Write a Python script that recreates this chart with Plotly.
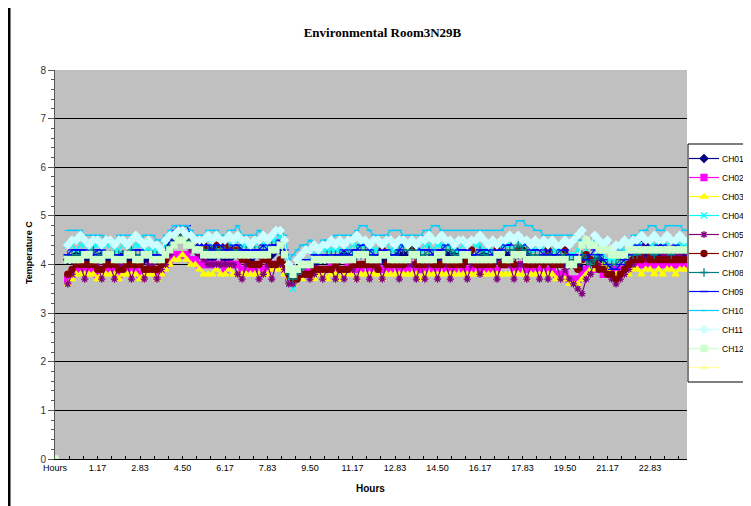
import plotly.graph_objects as go

# ---------------- data (°C, one reading every 10 minutes, starting at category 3) ----------------
tick_labels = ["Hours", "1.17", "2.83", "4.50", "6.17", "7.83", "9.50", "11.17",
               "12.83", "14.50", "16.17", "17.83", "19.50", "21.17", "22.83"]

ch01 = [4.1,4.1,4.2,4.2,4.1,4.1,4.1,4.1,4.2,4.1,
        4.1,4.1,4.1,4.2,4.1,4.1,4.1,4.1,4.1,4.1,
        4.1,4.1,4.1,4.2,4.4,4.5,4.6,4.6,4.5,4.4,
        4.3,4.2,4.2,4.1,4.1,4.2,4.2,4.1,4.1,4.2,
        4.2,4.2,4.1,4.1,4.2,4.2,4.2,4.1,4.2,4.3,
        4.3,4.2,3.8,3.7,3.8,3.9,3.9,4.0,4.0,4.1,
        4.1,4.1,4.1,4.1,4.1,4.2,4.1,4.1,4.2,4.2,
        4.2,4.1,4.1,4.1,4.1,4.1,4.1,4.1,4.2,4.2,
        4.2,4.2,4.2,4.1,4.1,4.1,4.1,4.1,4.2,4.2,
        4.2,4.2,4.1,4.1,4.1,4.1,4.1,4.1,4.2,4.1,
        4.1,4.1,4.2,4.2,4.2,4.2,4.2,4.2,4.2,4.1,
        4.1,4.1,4.1,4.1,4.1,4.1,4.1,4.0,4.0,4.0,
        4.0,3.9,3.9,3.9,4.0,4.1,4.0,3.9,3.9,3.8,
        3.8,3.9,4.0,4.1,4.2,4.2,4.2,4.2,4.2,4.2,
        4.2,4.2,4.2,4.2,4.2,4.2,4.2]

ch02 = [3.7,3.8,3.9,3.9,3.9,3.9,3.9,3.8,3.9,3.9,
        3.9,3.9,3.8,3.9,3.9,3.9,3.9,3.8,3.8,3.9,
        3.9,3.8,3.9,4.0,4.1,4.2,4.2,4.2,4.2,4.1,
        4.1,4.0,4.0,4.0,4.0,4.0,4.0,3.9,4.0,4.0,
        4.0,3.9,3.9,3.9,3.9,4.0,3.9,3.9,4.0,4.0,
        4.0,3.9,3.7,3.7,3.8,3.8,3.9,3.9,3.9,3.9,
        3.9,3.9,4.0,3.9,3.9,3.9,4.0,3.9,3.9,3.9,
        4.0,3.9,3.9,4.0,3.9,3.9,3.9,4.0,3.9,3.9,
        3.9,4.0,3.9,3.9,3.9,4.0,3.9,3.9,4.0,3.9,
        3.9,3.9,4.0,3.9,3.9,3.9,4.0,3.9,3.9,3.9,
        3.9,3.9,4.0,4.0,4.0,3.9,3.9,4.0,3.9,3.9,
        3.9,3.9,4.0,3.9,3.9,3.8,3.8,3.8,3.7,3.7,
        3.7,3.8,3.9,4.0,3.9,3.9,3.8,3.8,3.8,3.9,
        3.9,3.9,4.0,4.0,4.0,4.0,4.0,4.0,4.0,4.0,
        4.0,4.0,4.0,4.0,4.0,4.0,4.0]

ch03 = [3.6,3.7,3.8,3.8,3.8,3.8,3.8,3.7,3.8,3.8,
        3.8,3.8,3.7,3.8,3.8,3.8,3.8,3.7,3.8,3.8,
        3.8,3.7,3.8,3.9,4.0,4.1,4.1,4.2,4.1,4.0,
        4.0,3.9,3.8,3.8,3.8,3.9,3.8,3.8,3.9,3.8,
        3.8,3.8,3.8,3.8,3.8,3.8,3.8,3.8,3.9,3.9,
        3.9,3.8,3.6,3.6,3.7,3.7,3.8,3.8,3.7,3.8,
        3.8,3.7,3.8,3.8,3.7,3.8,3.8,3.8,3.7,3.8,
        3.8,3.8,3.8,3.8,3.7,3.8,3.8,3.8,3.8,3.8,
        3.8,3.8,3.8,3.7,3.8,3.8,3.8,3.8,3.8,3.8,
        3.8,3.8,3.8,3.8,3.8,3.8,3.8,3.8,3.8,3.8,
        3.8,3.8,3.8,3.8,3.8,3.8,3.8,3.8,3.7,3.8,
        3.8,3.8,3.8,3.8,3.8,3.7,3.7,3.7,3.6,3.6,
        3.6,3.7,3.8,3.9,3.9,4.0,4.0,3.9,3.8,3.8,
        3.8,3.8,3.8,3.9,3.9,3.8,3.9,3.9,3.8,3.9,
        3.8,3.9,3.9,3.8,3.9,3.9,3.9]

ch04 = [4.4,4.4,4.3,4.4,4.4,4.3,4.4,4.4,4.3,4.4,
        4.4,4.3,4.3,4.4,4.4,4.3,4.4,4.4,4.3,4.3,
        4.3,4.3,4.3,4.4,4.5,4.6,4.6,4.6,4.6,4.5,
        4.5,4.4,4.4,4.5,4.4,4.4,4.5,4.4,4.4,4.4,
        4.5,4.4,4.4,4.4,4.4,4.5,4.4,4.4,4.5,4.5,
        4.6,4.3,3.6,3.5,3.7,3.9,4.0,4.1,4.2,4.2,
        4.3,4.3,4.3,4.3,4.3,4.4,4.3,4.4,4.4,4.4,
        4.4,4.3,4.3,4.3,4.4,4.4,4.3,4.3,4.4,4.4,
        4.4,4.4,4.3,4.3,4.4,4.4,4.3,4.4,4.4,4.4,
        4.4,4.3,4.3,4.4,4.3,4.3,4.4,4.4,4.3,4.3,
        4.3,4.4,4.4,4.4,4.4,4.5,4.5,4.4,4.4,4.3,
        4.3,4.4,4.3,4.3,4.3,4.3,4.3,4.3,4.2,4.2,
        4.3,4.4,4.3,4.1,4.2,4.2,4.2,4.1,4.1,4.1,
        4.2,4.3,4.3,4.4,4.4,4.4,4.4,4.4,4.4,4.4,
        4.4,4.4,4.3,4.4,4.4,4.4,4.4]

ch05 = [3.6,3.8,4.0,4.0,3.7,4.0,4.0,4.0,3.7,4.0,
        4.0,3.7,4.0,4.0,4.0,3.7,4.0,4.0,3.7,4.0,
        4.0,3.7,3.9,4.0,4.2,4.4,4.5,4.5,4.4,4.3,
        4.3,4.2,4.1,4.0,4.0,4.0,4.0,4.0,4.0,4.0,
        3.8,3.7,4.0,4.0,4.0,3.7,3.8,4.0,3.7,4.0,
        4.0,3.9,3.6,3.6,3.7,3.8,3.8,3.7,3.8,3.9,
        3.7,3.9,3.9,3.7,3.9,3.7,3.9,3.9,3.7,4.0,
        4.0,3.7,4.0,4.0,3.7,4.0,4.0,4.0,3.7,4.0,
        4.0,4.0,3.7,4.0,3.7,4.0,4.0,3.7,4.0,4.0,
        3.7,4.0,4.0,4.0,3.7,4.0,4.0,3.8,4.0,4.0,
        4.0,3.7,4.0,4.0,4.0,3.7,4.0,4.0,3.7,4.0,
        4.0,3.7,4.0,3.7,4.0,4.0,3.7,3.9,3.7,3.6,
        3.5,3.4,3.7,3.8,4.1,4.0,3.9,3.8,3.7,3.6,
        3.7,3.8,3.9,4.0,4.1,4.2,4.1,4.2,4.2,4.1,
        4.2,4.2,4.1,4.2,4.2,4.1,4.2]

ch07 = [3.8,3.9,4.0,4.0,4.0,4.0,4.0,3.9,3.9,4.0,
        4.0,4.0,3.9,3.9,4.0,4.0,4.0,4.0,3.9,3.9,
        3.9,3.9,4.0,4.1,4.3,4.5,4.6,4.6,4.5,4.4,
        4.4,4.4,4.4,4.3,4.3,4.4,4.4,4.4,4.3,4.3,
        4.3,4.1,4.1,4.0,4.0,4.0,4.1,4.1,4.0,4.0,
        4.1,4.0,3.8,3.7,3.7,3.8,3.8,3.8,3.9,3.9,
        3.9,3.9,3.9,4.0,3.9,3.9,3.9,4.0,4.0,4.0,
        4.0,4.0,4.0,3.9,4.3,4.0,4.0,4.0,4.0,4.0,
        4.1,4.3,4.0,4.0,4.0,4.1,4.0,4.0,4.0,4.1,
        4.0,4.0,4.0,4.0,4.1,4.3,4.0,4.0,4.0,4.0,
        4.0,4.3,4.0,4.0,4.1,4.0,4.3,4.3,4.0,4.0,
        4.0,4.1,4.0,4.3,4.0,4.0,4.0,4.3,4.0,4.0,
        3.9,4.1,4.2,4.1,4.0,3.9,3.9,3.8,3.8,3.7,
        3.8,3.9,4.0,4.1,4.1,4.1,4.4,4.1,4.1,4.1,
        4.1,4.1,4.1,4.1,4.1,4.1,4.1]

ch08 = [4.2,4.2,4.2,4.2,4.2,4.2,4.3,4.2,4.2,4.2,
        4.2,4.2,4.2,4.2,4.2,4.3,4.2,4.2,4.2,4.2,
        4.2,4.2,4.2,4.3,4.4,4.5,4.6,4.6,4.5,4.4,
        4.4,4.3,4.3,4.3,4.3,4.3,4.3,4.3,4.3,4.3,
        4.3,4.3,4.3,4.3,4.3,4.3,4.3,4.3,4.4,4.4,
        4.4,4.2,3.8,3.7,3.8,3.9,4.0,4.0,4.1,4.1,
        4.1,4.2,4.2,4.2,4.2,4.2,4.2,4.2,4.3,4.3,
        4.3,4.2,4.2,4.2,4.2,4.2,4.2,4.2,4.3,4.3,
        4.3,4.3,4.2,4.2,4.2,4.3,4.2,4.2,4.3,4.3,
        4.3,4.2,4.2,4.2,4.2,4.2,4.2,4.3,4.2,4.2,
        4.2,4.2,4.3,4.3,4.3,4.3,4.4,4.3,4.3,4.2,
        4.2,4.2,4.2,4.2,4.2,4.2,4.2,4.2,4.1,4.1,
        4.1,4.2,4.1,4.0,4.1,4.2,4.1,4.0,4.0,4.0,
        4.1,4.1,4.2,4.2,4.2,4.3,4.3,4.3,4.2,4.3,
        4.3,4.3,4.2,4.3,4.3,4.3,4.3]

ch09 = [4.2,4.3,4.3,4.3,4.3,4.2,4.2,4.3,4.3,4.2,
        4.2,4.1,4.2,4.2,4.2,4.2,4.3,4.3,4.2,4.2,
        4.2,4.2,4.1,4.3,4.5,4.7,4.8,4.8,4.8,4.6,
        4.5,4.4,4.4,4.4,4.3,4.4,4.4,4.3,4.3,4.4,
        4.4,4.3,4.3,4.3,4.3,4.3,4.4,4.3,4.4,4.4,
        4.5,4.3,3.9,3.8,3.9,4.0,4.1,4.1,4.2,4.2,
        4.2,4.2,4.1,4.2,4.2,4.3,4.2,4.3,4.3,4.4,
        4.4,4.3,4.2,4.2,4.3,4.3,4.2,4.2,4.3,4.4,
        4.4,4.5,4.4,4.3,4.3,4.3,4.2,4.3,4.3,4.4,
        4.5,4.4,4.3,4.3,4.3,4.2,4.2,4.3,4.3,4.3,
        4.2,4.3,4.3,4.4,4.4,4.5,4.5,4.5,4.4,4.3,
        4.3,4.3,4.2,4.3,4.2,4.2,4.3,4.3,4.2,4.2,
        4.2,4.1,4.1,4.2,4.3,4.2,4.1,4.0,3.9,3.9,
        4.0,4.1,4.2,4.3,4.4,4.5,4.4,4.3,4.3,4.4,
        4.4,4.3,4.3,4.4,4.3,4.3,4.3]

ch10 = [4.7,4.7,4.7,4.7,4.6,4.6,4.6,4.6,4.6,4.5,
        4.5,4.5,4.6,4.6,4.6,4.6,4.5,4.5,4.6,4.6,
        4.6,4.5,4.5,4.6,4.7,4.8,4.8,4.8,4.8,4.7,
        4.6,4.6,4.6,4.7,4.7,4.7,4.6,4.6,4.7,4.7,
        4.8,4.6,4.6,4.6,4.6,4.7,4.6,4.6,4.6,4.6,
        4.7,4.6,4.1,4.2,4.3,4.4,4.4,4.5,4.4,4.4,
        4.5,4.5,4.5,4.6,4.6,4.6,4.6,4.6,4.7,4.8,
        4.8,4.7,4.6,4.6,4.6,4.6,4.7,4.7,4.7,4.6,
        4.6,4.6,4.6,4.6,4.7,4.7,4.8,4.8,4.7,4.7,
        4.7,4.7,4.7,4.7,4.7,4.7,4.7,4.7,4.7,4.7,
        4.7,4.7,4.7,4.8,4.8,4.8,4.9,4.9,4.8,4.8,
        4.7,4.7,4.6,4.6,4.6,4.6,4.6,4.6,4.6,4.6,
        4.5,4.5,4.4,4.4,4.5,4.4,4.3,4.3,4.2,4.2,
        4.3,4.4,4.5,4.6,4.6,4.7,4.7,4.8,4.8,4.7,
        4.7,4.8,4.8,4.8,4.8,4.7,4.7]

ch11 = [4.4,4.5,4.5,4.6,4.5,4.4,4.5,4.5,4.4,4.5,
        4.5,4.4,4.5,4.5,4.4,4.5,4.6,4.5,4.4,4.5,
        4.4,4.4,4.3,4.5,4.6,4.6,4.7,4.7,4.6,4.6,
        4.5,4.5,4.5,4.6,4.5,4.6,4.5,4.5,4.6,4.5,
        4.6,4.5,4.5,4.4,4.5,4.5,4.6,4.5,4.6,4.7,
        4.7,4.5,4.0,3.9,4.1,4.2,4.3,4.3,4.4,4.3,
        4.4,4.4,4.5,4.4,4.5,4.4,4.5,4.5,4.6,4.5,
        4.5,4.4,4.5,4.5,4.4,4.5,4.5,4.4,4.5,4.5,
        4.4,4.5,4.4,4.5,4.5,4.6,4.5,4.5,4.6,4.5,
        4.5,4.4,4.5,4.5,4.4,4.5,4.5,4.6,4.5,4.4,
        4.5,4.4,4.5,4.5,4.6,4.5,4.6,4.5,4.5,4.4,
        4.5,4.4,4.5,4.4,4.5,4.4,4.4,4.5,4.4,4.5,
        4.6,4.7,4.5,4.4,4.6,4.5,4.4,4.5,4.3,4.4,
        4.4,4.5,4.4,4.5,4.5,4.6,4.5,4.5,4.6,4.5,
        4.5,4.6,4.5,4.5,4.6,4.5,4.5]

ch12_header = 0.0   # value plotted against the "Hours" category
ch12 = [4.1,4.1,4.1,4.1,4.2,4.2,4.1,4.1,4.1,4.2,
        4.2,4.1,4.1,4.1,4.2,4.2,4.1,4.1,4.2,4.2,
        4.1,4.1,4.1,4.2,4.3,4.4,4.5,4.5,4.4,4.4,
        4.3,4.3,4.2,4.2,4.2,4.2,4.2,4.2,4.2,4.2,
        4.2,4.2,4.2,4.2,4.2,4.2,4.2,4.2,4.3,4.3,
        4.4,4.2,3.9,3.8,3.9,4.0,4.0,4.0,4.1,4.1,
        4.1,4.1,4.1,4.1,4.1,4.1,4.1,4.1,4.2,4.2,
        4.2,4.1,4.1,4.1,4.2,4.2,4.1,4.1,4.1,4.1,
        4.1,4.2,4.2,4.1,4.1,4.1,4.1,4.2,4.2,4.1,
        4.1,4.1,4.1,4.2,4.2,4.1,4.1,4.1,4.1,4.1,
        4.1,4.2,4.2,4.1,4.1,4.2,4.2,4.2,4.1,4.1,
        4.1,4.1,4.1,4.1,4.1,4.1,4.1,4.1,4.0,4.0,
        4.1,4.4,4.5,4.4,4.4,4.3,4.3,4.3,4.2,4.2,
        4.2,4.2,4.3,4.3,4.3,4.3,4.3,4.3,4.3,4.3,
        4.3,4.3,4.3,4.3,4.3,4.3,4.3]

FIRST_DATA_CATEGORY = 3

# ---------------- styling ----------------
series = [
    ("CH01", ch01, "#000080", "diamond", 6),
    ("CH02", ch02, "#FF00FF", "square", 6),
    ("CH03", ch03, "#FFFF00", "triangle-up", 6),
    ("CH04", ch04, "#00FFFF", "x-thin-open", 6),
    ("CH05", ch05, "#800080", "asterisk-open", 6),
    ("CH07", ch07, "#800000", "circle", 6),
    ("CH08", ch08, "#008080", "cross-thin-open", 6),
    ("CH09", ch09, "#0000FF", "line-ew-open", 6),
    ("CH10", ch10, "#00CCFF", "line-ew-open", 4),
    ("CH11", ch11, "#CCFFFF", "diamond", 6),
    ("CH12", ch12, "#CCFFCC", "square", 6),
]
legend_names = [s[0] for s in series] + [""]   # the last legend entry has no label

fig = go.Figure()
for name, vals, color, sym, size in series:
    xs = list(range(FIRST_DATA_CATEGORY, FIRST_DATA_CATEGORY + len(vals)))
    ys = list(vals)
    if name == "CH12":
        xs = list(range(0, FIRST_DATA_CATEGORY)) + xs
        ys = [ch12_header] + [None] * (FIRST_DATA_CATEGORY - 1) + ys
    fig.add_trace(go.Scatter(
        x=xs, y=ys, name="", hovertext=name, mode="lines+markers",
        connectgaps=False,
        line=dict(color=color, width=1.2),
        marker=dict(symbol=sym, size=size, color=color,
                    line=dict(color=color, width=1.3)),
    ))

# unnamed last series shown in the legend
fig.add_trace(go.Scatter(
    x=[None], y=[None], name="", mode="lines+markers",
    line=dict(color="#FFFF99", width=1.2),
    marker=dict(symbol="triangle-up", size=6, color="#FFFF99"),
))

# The page places the figure 8 px in from the window's top-left corner.
OFF = 8
W, H = 751, 506 - OFF
PLOT_L, PLOT_R, PLOT_T, PLOT_B = 55, 687, 70, 459   # plot area in window pixels
L, T = PLOT_L - OFF, PLOT_T - OFF
R, B = W - (PLOT_R - OFF), H - (PLOT_B - OFF)
pw, ph = PLOT_R - PLOT_L, PLOT_B - PLOT_T

def px_x(px):
    return (px - PLOT_L) / pw

def px_y(py):
    return (PLOT_B - py) / ph

# legend geometry (plotly legend rows are 19 px tall, 5 px padding at each end)
LEG_X, BOX_X, TEXT_X = 684, 688, 720
LEG_MID, ROW_H, LEG_PAD = 263, 19, 5
leg_h = ROW_H * len(legend_names) + 2 * LEG_PAD
leg_top = LEG_MID - leg_h / 2

label_annotations = [
    dict(text=nm, xref="paper", yref="paper", x=px_x(TEXT_X),
         y=px_y(leg_top + LEG_PAD + ROW_H * (i + 0.5)),
         showarrow=False, xanchor="left", yanchor="middle",
         font=dict(size=8.5, color="#000000"))
    for i, nm in enumerate(legend_names) if nm
]

fig.update_layout(
    width=W, height=H,
    margin=dict(l=L, r=R, t=T, b=B, pad=0, autoexpand=False),
    paper_bgcolor="white",
    plot_bgcolor="#C0C0C0",
    font=dict(family="Liberation Sans, Arial, sans-serif", color="#000000"),
    showlegend=True,
    hovermode="closest",
    title=dict(text="<b>Environmental Room3N29B</b>",
               font=dict(family="Liberation Serif, Times New Roman, serif", size=13, color="#000000"),
               x=(382.5 - OFF) / W, xanchor="center", y=1 - (32 - OFF) / H, yanchor="middle"),
    legend=dict(x=px_x(LEG_X), xanchor="left", y=px_y(LEG_MID), yanchor="middle",
                bgcolor="rgba(0,0,0,0)", borderwidth=0,
                font=dict(size=9, family="Liberation Sans, Arial, sans-serif", color="#000000"),
                itemwidth=30, tracegroupgap=0),
    xaxis=dict(
        range=[0, 148.7], showgrid=False, zeroline=False,
        tickmode="array", tickvals=[10 * i for i in range(len(tick_labels))], ticktext=tick_labels,
        ticks="inside", ticklen=3, tickcolor="#000000",
        tickfont=dict(size=9, color="#000000"),
        showline=True, linecolor="#000000", linewidth=1,
        minor=dict(tickmode="linear", tick0=0, dtick=10 / 3, ticks="inside", ticklen=3, tickcolor="#000000"),
    ),
    yaxis=dict(
        range=[0, 8], dtick=1, tick0=0,
        showgrid=True, gridcolor="#000000", gridwidth=1, zeroline=False,
        ticks="outside", ticklen=6, tickcolor="#555555",
        tickfont=dict(size=10, color="#333333"),
        showline=True, linecolor="#555555", linewidth=1,
        minor=dict(dtick=0.2, ticks="outside", ticklen=3, tickcolor="#555555", showgrid=False),
    ),
    annotations=[
        dict(text="<b>Hours</b>", xref="paper", yref="paper", x=px_x(370), y=px_y(488),
             showarrow=False, font=dict(size=10, color="#000000"), xanchor="center", yanchor="middle"),
        dict(text="<b>Temperature C</b>", xref="paper", yref="paper", x=px_x(29), y=px_y(253),
             showarrow=False, textangle=-90, font=dict(size=9, color="#000000"),
             xanchor="center", yanchor="middle"),
    ] + label_annotations,
    shapes=[
        dict(type="line", xref="paper", yref="paper", x0=px_x(9), x1=px_x(9), y0=px_y(0), y1=px_y(506),
             line=dict(color="#000000", width=3)),
        dict(type="rect", xref="paper", yref="paper", layer="above",
             x0=px_x(BOX_X), x1=px_x(775), y0=px_y(leg_top), y1=px_y(leg_top + leg_h),
             line=dict(color="#000000", width=1), fillcolor="rgba(0,0,0,0)"),
    ],
)

fig.write_html("out.html")
